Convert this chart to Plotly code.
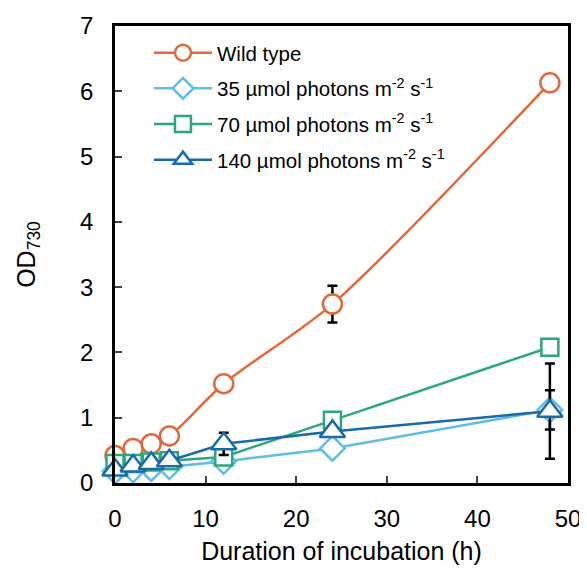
import plotly.graph_objects as go

hours = [0, 2, 4, 6, 12, 24, 48]

wild_type = [0.42, 0.53, 0.60, 0.72, 1.52, 2.74, 6.13]
wild_type_err = [0, 0, 0, 0, 0, 0.28, 0]

light_35 = [0.18, 0.20, 0.22, 0.25, 0.33, 0.53, 1.12]
light_35_err = [0, 0, 0, 0, 0, 0, 0.3]

light_70 = [0.30, 0.30, 0.32, 0.34, 0.40, 0.96, 2.08]
light_70_err = [0, 0, 0, 0, 0, 0, 0]

light_140 = [0.20, 0.26, 0.30, 0.34, 0.60, 0.79, 1.10]
light_140_err = [0, 0, 0, 0, 0.17, 0, 0.73]

series = [
  ("Wild type", wild_type, wild_type_err, "#E2683A", "circle", 19, "spline"),
  ("35 µmol photons m<sup>-2</sup> s<sup>-1</sup>", light_35, light_35_err, "#5DBDE6", "diamond", 19, "linear"),
  ("70 µmol photons m<sup>-2</sup> s<sup>-1</sup>", light_70, light_70_err, "#2BA878", "square", 17, "linear"),
  ("140 µmol photons m<sup>-2</sup> s<sup>-1</sup>", light_140, light_140_err, "#1A6AAA", "triangle-up", 22, "linear"),
]

fig = go.Figure()

for name, ys, errs, color, symbol, size, shape in series:
  fig.add_trace(
    go.Scatter(
      x=hours,
      y=ys,
      name=name,
      legendgroup=name,
      mode="lines+markers",
      line=dict(color=color, width=2.5, shape=shape, smoothing=0.8),
      marker=dict(
        symbol=symbol,
        size=size,
        color="white",
        line=dict(color=color, width=2.5),
      ),
      error_y=dict(
        type="data",
        array=errs,
        visible=True,
        color="black",
        thickness=2.5,
        width=5,
      ),
      cliponaxis=False,
    )
  )

# the page body adds an 8px offset, so the figure is sized to fit inside it
fig.update_layout(
  width=579,
  height=564,
  paper_bgcolor="white",
  plot_bgcolor="white",
  margin=dict(l=107, r=19, t=18, b=89, autoexpand=False),
  font=dict(family="Liberation Sans, Arial, sans-serif", color="black", size=24),
  showlegend=True,
  legend=dict(
    x=0.075,
    y=0.985,
    xanchor="left",
    yanchor="top",
    bgcolor="rgba(0,0,0,0)",
    font=dict(size=20.5),
    tracegroupgap=6,
    itemwidth=58,
  ),
)

fig.update_xaxes(
  range=[0, 50],
  tickvals=[0, 10, 20, 30, 40, 50],
  ticks="inside",
  ticklen=7,
  tickwidth=2,
  ticklabelstandoff=12,
  showline=True,
  linecolor="black",
  linewidth=2.5,
  mirror=True,
  showgrid=False,
  zeroline=False,
  automargin=False,
  title=dict(text="Duration of incubation (h)", standoff=12, font=dict(size=25)),
  tickfont=dict(size=24),
)

fig.update_yaxes(
  range=[0, 7],
  tickvals=[0, 1, 2, 3, 4, 5, 6, 7],
  ticks="inside",
  ticklen=7,
  tickwidth=2,
  ticklabelstandoff=14,
  showline=True,
  linecolor="black",
  linewidth=2.5,
  mirror=True,
  showgrid=False,
  zeroline=False,
  automargin=False,
  title=dict(text="OD<sub>730</sub>", standoff=38, font=dict(size=25)),
  tickfont=dict(size=24),
)

fig.write_html("out.html")
